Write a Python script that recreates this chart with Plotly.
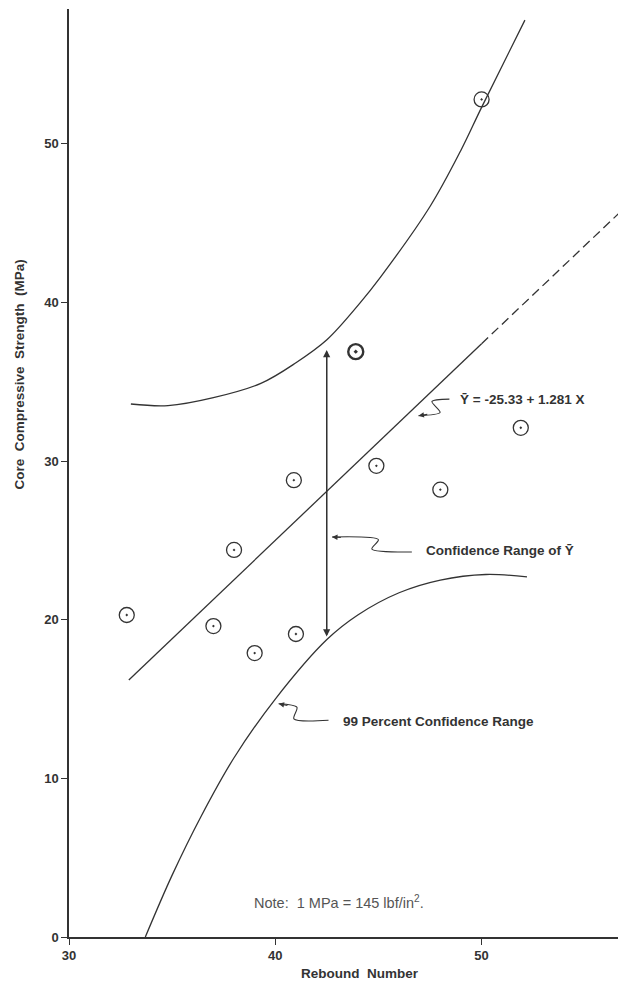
import plotly.graph_objects as go

# ---- data ----
rebound = [32.8, 37.0, 38.0, 39.0, 40.9, 41.0, 43.9, 44.9, 48.0, 50.0, 51.9]
strength = [20.3, 19.6, 24.4, 17.9, 28.8, 19.1, 36.9, 29.7, 28.2, 52.8, 32.1]
bold_flags = [0, 0, 0, 0, 0, 0, 1, 0, 0, 0, 0]

reg_solid_x = [32.9, 50.0]
reg_solid_y = [16.2, 37.4]
reg_dash_x = [50.0, 56.8]
reg_dash_y = [37.4, 45.8]

upper_x = [33.0, 34.8, 37.0, 39.3, 41.0, 42.5, 44.1, 45.1, 47.5, 49.0, 50.0, 52.1]
upper_y = [33.6, 33.5, 34.0, 34.9, 36.2, 37.65, 39.96, 41.6, 46.05, 49.6, 52.3, 57.8]

lower_x = [33.7, 35.0, 36.4, 38.0, 40.0, 42.5, 44.0, 46.0, 48.0, 50.2, 52.2]
lower_y = [0.0, 3.9, 7.6, 11.3, 15.0, 18.75, 20.3, 21.7, 22.5, 22.85, 22.7]

range_x = 42.49
range_top = 37.0
range_bottom = 18.95

lead_reg_x = [46.94, 47.99, 47.59, 48.44]
lead_reg_y = [32.86, 33.07, 33.76, 33.91]
lead_conf_x = [42.75, 45.0, 44.68, 46.62]
lead_conf_y = [25.22, 25.05, 24.46, 24.27]
lead_99_x = [40.16, 41.05, 40.9, 42.58]
lead_99_y = [14.7, 14.48, 13.75, 13.66]

x_ticks = [30, 40, 50]
y_ticks = [0, 10, 20, 30, 40, 50]

INK = "#333333"
FONT = "Liberation Sans"

fig = go.Figure()

line_style = dict(color=INK, width=1.3)
fig.add_trace(go.Scatter(x=upper_x, y=upper_y, mode="lines",
                         line=dict(color=INK, width=1.3, shape="spline", smoothing=1.0)))
fig.add_trace(go.Scatter(x=lower_x, y=lower_y, mode="lines",
                         line=dict(color=INK, width=1.3, shape="spline", smoothing=1.0)))
fig.add_trace(go.Scatter(x=reg_solid_x, y=reg_solid_y, mode="lines", line=line_style))
fig.add_trace(go.Scatter(x=reg_dash_x, y=reg_dash_y, mode="lines",
                         line=dict(color=INK, width=1.3, dash="9px,5px")))

# leader squiggles
for lx, ly in [(lead_reg_x, lead_reg_y), (lead_conf_x, lead_conf_y), (lead_99_x, lead_99_y)]:
    fig.add_trace(go.Scatter(x=lx, y=ly, mode="lines",
                             line=dict(color=INK, width=1.1, shape="spline", smoothing=0.8)))

# points
norm_x = [x for x, b in zip(rebound, bold_flags) if not b]
norm_y = [y for y, b in zip(strength, bold_flags) if not b]
bold_x = [x for x, b in zip(rebound, bold_flags) if b]
bold_y = [y for y, b in zip(strength, bold_flags) if b]
fig.add_trace(go.Scatter(x=norm_x, y=norm_y, mode="markers",
                         marker=dict(symbol="circle-open-dot", size=15, color=INK,
                                     line=dict(color=INK, width=1.3))))
fig.add_trace(go.Scatter(x=bold_x, y=bold_y, mode="markers",
                         marker=dict(symbol="circle-open-dot", size=15, color=INK,
                                     line=dict(color=INK, width=2.4))))

annotations = []
# double-headed vertical arrow
annotations.append(dict(x=range_x, y=range_top, ax=range_x, ay=range_bottom,
                        xref="x", yref="y", axref="x", ayref="y", text="",
                        showarrow=True, arrowhead=2, arrowsize=1.1, arrowwidth=1.3,
                        arrowcolor=INK))
annotations.append(dict(x=range_x, y=range_bottom, ax=range_x, ay=range_top,
                        xref="x", yref="y", axref="x", ayref="y", text="",
                        showarrow=True, arrowhead=2, arrowsize=1.1, arrowwidth=1.3,
                        arrowcolor=INK))
# arrowheads on leaders
for lx, ly in [(lead_reg_x, lead_reg_y), (lead_conf_x, lead_conf_y), (lead_99_x, lead_99_y)]:
    annotations.append(dict(x=lx[0], y=ly[0], ax=lx[0] + 0.5, ay=ly[0] + (ly[1] - ly[0]) * 0.5 / (lx[1] - lx[0]),
                            xref="x", yref="y", axref="x", ayref="y", text="",
                            showarrow=True, arrowhead=2, arrowsize=1.0, arrowwidth=1.1,
                            arrowcolor=INK))

lab_font = dict(family=FONT, size=13.5, color=INK, weight="bold")
annotations.append(dict(x=48.85, y=33.9, xref="x", yref="y", text="Ȳ = -25.33 + 1.281 X",
                        showarrow=False, xanchor="left", yanchor="middle", font=lab_font))
annotations.append(dict(x=47.2, y=24.37, xref="x", yref="y", text="Confidence Range of Ȳ",
                        showarrow=False, xanchor="left", yanchor="middle", font=lab_font))
annotations.append(dict(x=43.2, y=13.6, xref="x", yref="y", text="99 Percent Confidence Range",
                        showarrow=False, xanchor="left", yanchor="middle", font=lab_font))
annotations.append(dict(x=38.85, y=2.2, xref="x", yref="y",
                        text="Note:  1 MPa = 145 lbf/in<sup>2</sup>.",
                        showarrow=False, xanchor="left", yanchor="middle",
                        font=dict(family=FONT, size=14.5, color="#555555")))
# axis titles
annotations.append(dict(x=-0.088, y=0.606, xref="paper", yref="paper",
                        text="Core  Compressive  Strength  (MPa)", textangle=-90,
                        showarrow=False, xanchor="center", yanchor="middle",
                        font=dict(family=FONT, size=13.5, color=INK, weight="bold")))
annotations.append(dict(x=0.522, y=-0.039, xref="paper", yref="paper",
                        text="Rebound  Number", showarrow=False,
                        xanchor="center", yanchor="middle",
                        font=dict(family=FONT, size=13.5, color=INK, weight="bold")))

# page body has an 8px default margin, so the figure is sized/offset to compensate
fig.update_layout(
    width=618, height=976,
    margin=dict(l=61, r=0, t=1, b=47),
    paper_bgcolor="white", plot_bgcolor="white",
    showlegend=False,
    annotations=annotations,
    xaxis=dict(range=[30, 57], tickvals=x_ticks, ticktext=[str(v) for v in x_ticks],
               showgrid=False, zeroline=False, showline=True, linecolor=INK, linewidth=1.5,
               ticks="outside", ticklen=6, tickwidth=1.3, tickcolor=INK,
               tickfont=dict(family=FONT, size=13, color=INK, weight="bold")),
    yaxis=dict(range=[0, 58.5], tickvals=y_ticks, ticktext=[str(v) for v in y_ticks],
               showgrid=False, zeroline=False, showline=True, linecolor=INK, linewidth=1.5,
               ticks="outside", ticklen=6, tickwidth=1.3, tickcolor=INK,
               tickfont=dict(family=FONT, size=13, color=INK, weight="bold")),
)

fig.write_html("out.html")
